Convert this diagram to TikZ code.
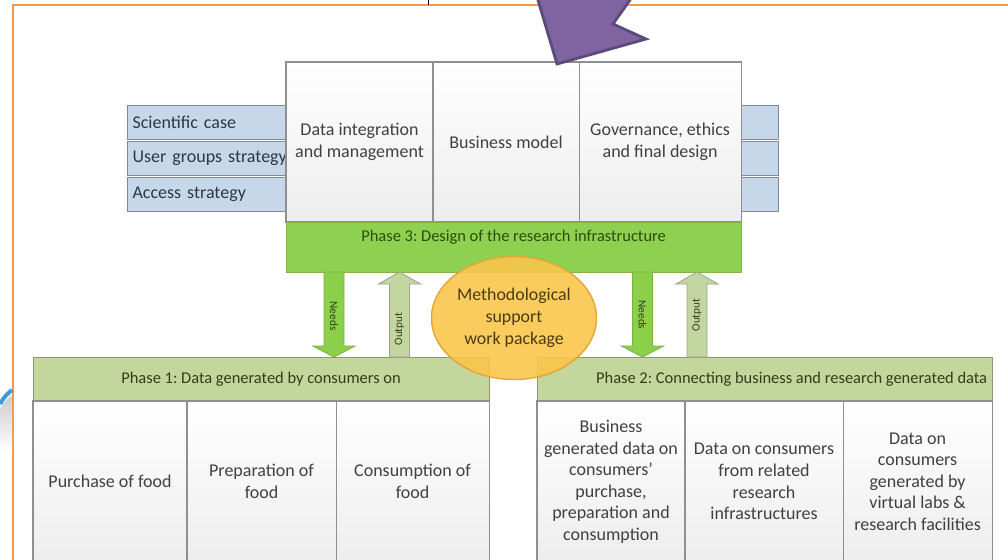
\documentclass[tikz,border=0pt]{standalone}
\usepackage{fontspec}
\setmainfont{Carlito}
\usetikzlibrary{positioning,shapes.geometric}
\frenchspacing

\definecolor{frameorange}{HTML}{F79646}
\definecolor{cellline}{HTML}{8F8F8F}
\definecolor{celltext}{HTML}{404040}
\definecolor{bandfill}{HTML}{C6D7EA}
\definecolor{bandline}{HTML}{7D8A98}
\definecolor{bandtext}{HTML}{2E3745}
\definecolor{barfill}{HTML}{8ED04F}
\definecolor{barline}{HTML}{7DB646}
\definecolor{bartext}{HTML}{2F4A12}
\definecolor{headfill}{HTML}{C3D69B}
\definecolor{headline}{HTML}{8B9872}
\definecolor{headtext}{HTML}{333D1A}
\definecolor{needsfill}{HTML}{8CD04A}
\definecolor{needsline}{HTML}{78B244}
\definecolor{outfill}{HTML}{C4D6A0}
\definecolor{outline}{HTML}{9DA58C}
\definecolor{methfill}{HTML}{F9C64B}
\definecolor{methline}{HTML}{E3A53C}
\definecolor{methtext}{HTML}{4A3C12}
\definecolor{pointerfill}{HTML}{8064A2}
\definecolor{pointerline}{HTML}{5C4A7E}
\definecolor{swirlblue}{HTML}{3D9BDA}

\begin{document}
\begin{tikzpicture}[
x=0.025cm, y=-0.025cm,
cell/.style={rectangle, draw=cellline, line width=0.8pt, top color=white, bottom color=black!7, text=celltext, align=center, inner sep=0pt, outer sep=0pt, minimum height=4.025cm, font=\fontsize{12.8}{15.3}\selectfont},
topbox/.style={cell, minimum height=4cm},
band/.style={rectangle, draw=bandline, line width=0.8pt, fill=bandfill, text=bandtext, anchor=north west, minimum height=0.85cm, inner ysep=0pt, inner xsep=0.125cm, align=left, font=\fontsize{12.8}{15.3}\selectfont},
bar/.style={rectangle, draw=barline, line width=0.6pt, fill=barfill, minimum width=11.375cm, minimum height=1.25cm, inner sep=0pt, outer sep=0pt},
bartag/.style={text=bartext, inner sep=0pt, font=\fontsize{11.7}{14}\selectfont},
header/.style={rectangle, draw=headline, line width=0.7pt, fill=headfill, text=headtext, minimum height=1.1cm, inner sep=0pt, outer sep=0pt, font=\fontsize{11.7}{14}\selectfont},
needs/.style={draw=needsline, line width=0.6pt, fill=needsfill, line join=miter},
output/.style={draw=outline, line width=0.6pt, fill=outfill, line join=miter},
tag/.style={text=headtext, inner sep=0pt, font=\fontsize{8}{9}\selectfont},
meth/.style={ellipse, draw=methline, line width=1pt, fill=methfill, fill opacity=0.9, text opacity=1, text=methtext, align=center, minimum width=4.125cm, minimum height=3.075cm, inner sep=0pt, font=\fontsize{12.7}{15.6}\selectfont},
pointer/.style={draw=pointerline, line width=2pt, fill=pointerfill, line join=miter},
frame/.style={draw=frameorange, line width=1.6pt}
]
\useasboundingbox (0,0) rectangle (1008,560);

% frame and leftovers of the slide
\draw[frame] (1015,5) -- (13,5) -- (13,570);
\draw[black, line width=0.7pt] (428,0) -- (428,5);
\shade[top color=black!20, bottom color=white] (0,409) .. controls (5,401) .. (12,395) -- (12,452) -- (0,452) -- cycle;
\draw[swirlblue, line width=0.1cm] (0,404) .. controls (5,396) .. (12,390);

% strategy bands behind the top boxes
\node[band, text width=3.825cm] (sci) at (127,105) {Scientific case};
\node[band, text width=3.825cm] (usr) at (127,141) {\mbox{User groups strategy}};
\node[band, text width=3.825cm] (acc) at (127,177) {Access strategy};
\node[band, minimum width=1.025cm] (sciR) at (737,105) {};
\node[band, minimum width=1.025cm] (usrR) at (737,141) {};
\node[band, minimum width=1.025cm] (accR) at (737,177) {};

% phase 3
\node[topbox, minimum width=3.675cm, anchor=north west] (dim) at (286,62) {Data integration\\and management};
\node[topbox, minimum width=3.65cm, right=0pt of dim] (bm) {Business model};
\node[topbox, minimum width=4.05cm, right=0pt of bm] (gov) {Governance, ethics\\and final design};
\node[bar, anchor=north west] (ph3) at (dim.south west) {};
\node[bartag, below=0.19cm of ph3.north] (ph3t) {Phase 3: Design of the research infrastructure};

% phase 1
\node[header, minimum width=11.4cm, anchor=north west] (ph1) at (33,357) {Phase 1: Data generated by consumers on};
\node[cell, minimum width=3.85cm, anchor=north west] (buy) at (ph1.south west) {Purchase of food};
\node[cell, minimum width=3.725cm, right=0pt of buy] (prep) {Preparation of\\food};
\node[cell, minimum width=3.825cm, right=0pt of prep] (eat) {Consumption of\\food};

% phase 2
\node[header, minimum width=11.375cm, text width=11.125cm, inner xsep=0.125cm, align=flush right, anchor=north west] (ph2) at (537,357) {Phase 2: Connecting business and research generated data};
\node[cell, minimum width=3.7cm, anchor=north west] (biz) at (ph2.south west) {Business\\generated data on\\consumers'\\purchase,\\preparation and\\consumption};
\node[cell, minimum width=3.95cm, right=0pt of biz] (rel) {Data on consumers\\from related\\research\\infrastructures};
\node[cell, minimum width=3.725cm, right=0pt of rel] (lab) {Data on\\consumers\\generated by\\virtual labs \&\\research facilities};

% needs and output arrows
\coordinate (needsA) at (334,0);
\coordinate (outA) at (399.5,0);
\coordinate (needsB) at (642.5,0);
\coordinate (outB) at (697,0);
\draw[needs] (needsA |- ph3.south) ++(-10,0) -- ++(0,74) -- ++(-11,0) -- ++(21,11) -- ++(21,-11) -- ++(-11,0) -- ++(0,-74) -- cycle;
\draw[output] (outA |- ph1.north) ++(-10,0) -- ++(0,-73) -- ++(-11,0) -- ++(21,-12) -- ++(21,12) -- ++(-11,0) -- ++(0,73) -- cycle;
\draw[needs] (needsB |- ph3.south) ++(-10,0) -- ++(0,74) -- ++(-11,0) -- ++(21,11) -- ++(21,-11) -- ++(-11,0) -- ++(0,-74) -- cycle;
\draw[output] (outB |- ph2.north) ++(-10,0) -- ++(0,-73) -- ++(-11,0) -- ++(21,-12) -- ++(21,12) -- ++(-11,0) -- ++(0,73) -- cycle;
\node[tag, rotate=-90] (needsAt) at (334,316) {Needs};
\node[tag, rotate=90] (outAt) at (399.5,329) {Output};
\node[tag, rotate=-90] (needsBt) at (642.5,315) {Needs};
\node[tag, rotate=90] (outBt) at (697,315) {Output};

% methodological support
\node[meth] (meth) at (514,318) {Methodological\\support\\work package};

% pointer
\draw[pointer] (535,-10) -- (557,64) -- (646,39) -- (613,24) -- (637,-10) -- cycle;

\end{tikzpicture}
\end{document}
